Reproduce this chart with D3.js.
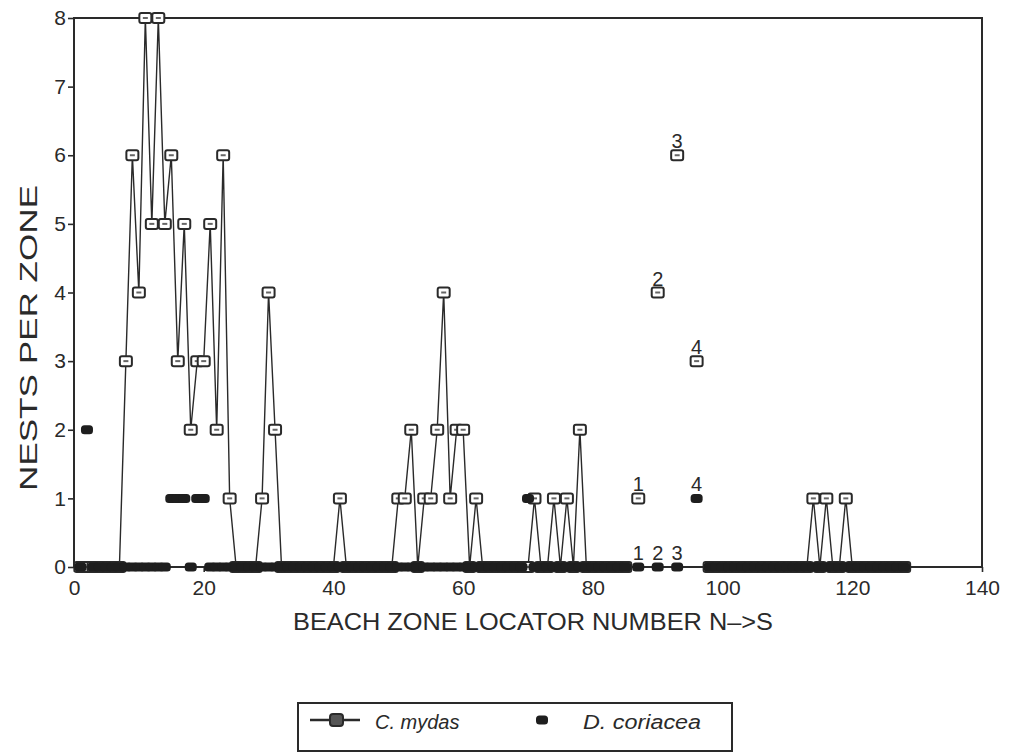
<!DOCTYPE html>
<html>
<head>
<meta charset="utf-8">
<script src="https://cdn.jsdelivr.net/npm/d3@7"></script>
<style>
  body { margin: 0; background: #fff; }
  text { font-family: "Liberation Sans", Arial, Helvetica, sans-serif; fill: #2a2a2a; }
</style>
</head>
<body>
<svg id="chart" width="1011" height="753"></svg>
<script>
// Beach zones surveyed north to south (two contiguous stretches)
const northZones = d3.range(1, 86);   // zones 1..85
const southZones = d3.range(98, 129); // zones 98..128

// C. mydas nests per zone, zones 1..85
const mydasNorth = [
  0, 0, 0, 0, 0, 0, 0, 3, 6, 4,
  8, 5, 8, 5, 6, 3, 5, 2, 3, 3,
  5, 2, 6, 1, 0, 0, 0, 0, 1, 4,
  2, 0, 0, 0, 0, 0, 0, 0, 0, 0,
  1, 0, 0, 0, 0, 0, 0, 0, 0, 1,
  1, 2, 0, 1, 1, 2, 4, 1, 2, 2,
  0, 1, 0, 0, 0, 0, 0, 0, 0, 0,
  1, 0, 0, 1, 0, 1, 0, 2, 0, 0,
  0, 0, 0, 0, 0
];
// D. coriacea nests per zone, zones 1..85
const coriaceaNorth = [
  0, 2, 0, 0, 0, 0, 0, 0, 0, 0,
  0, 0, 0, 0, 1, 1, 1, 0, 1, 1,
  0, 0, 0, 0, 0, 0, 0, 0, 0, 0,
  0, 0, 0, 0, 0, 0, 0, 0, 0, 0,
  0, 0, 0, 0, 0, 0, 0, 0, 0, 0,
  0, 0, 0, 0, 0, 0, 0, 0, 0, 0,
  0, 0, 0, 0, 0, 0, 0, 0, 0, 1,
  0, 0, 0, 0, 0, 0, 0, 0, 0, 0,
  0, 0, 0, 0, 0
];
// zones 98..128
const mydasSouth = [
  0, 0, 0, 0, 0, 0, 0, 0, 0, 0,
  0, 0, 0, 0, 0, 0, 1, 0, 1, 0,
  0, 1, 0, 0, 0, 0, 0, 0, 0, 0,
  0
];
const coriaceaSouth = [
  0, 0, 0, 0, 0, 0, 0, 0, 0, 0,
  0, 0, 0, 0, 0, 0, 0, 0, 0, 0,
  0, 0, 0, 0, 0, 0, 0, 0, 0, 0,
  0
];

// Separately numbered zones 1-4
const extraZones = [87, 90, 93, 96];
const extraLabels = ["1", "2", "3", "4"];
const mydasExtra = [1, 4, 6, 3];
const coriaceaExtra = [0, 0, 0, 1];

const xTicks = [0, 20, 40, 60, 80, 100, 120, 140];
const yTicks = [0, 1, 2, 3, 4, 5, 6, 7, 8];
const seriesNames = ["C. mydas", "D. coriacea"];

const ink = "#2a2a2a";
const svg = d3.select("#chart");
const m = { left: 74, right: 982, top: 18, bottom: 567 };

const x = d3.scaleLinear().domain([0, 140]).range([m.left, m.right]);
const y = d3.scaleLinear().domain([0, 8]).range([m.bottom, m.top]);

// Axes
const yAxis = svg.append("g")
  .attr("transform", `translate(${m.left},0)`)
  .call(d3.axisLeft(y).tickValues(yTicks).tickSize(6).tickPadding(2).tickFormat(d3.format("d")));
const xAxis = svg.append("g")
  .attr("transform", `translate(0,${m.bottom})`)
  .call(d3.axisBottom(x).tickValues(xTicks).tickSize(5).tickPadding(8).tickFormat(d3.format("d")));
[yAxis, xAxis].forEach(g => {
  g.select(".domain").remove();
  g.selectAll(".tick line").attr("stroke", ink).attr("stroke-width", 1.6);
  g.selectAll(".tick text").attr("font-size", 21).attr("fill", ink)
    .style("font-family", '"Liberation Sans", Arial, sans-serif');
});

// Plot frame
svg.append("rect")
  .attr("x", m.left).attr("y", m.top)
  .attr("width", m.right - m.left).attr("height", m.bottom - m.top)
  .attr("fill", "none").attr("stroke", ink).attr("stroke-width", 2);

// Axis titles
svg.append("text")
  .attr("x", 293).attr("y", 630)
  .attr("font-size", 24)
  .attr("textLength", 480).attr("lengthAdjust", "spacingAndGlyphs")
  .text("BEACH ZONE LOCATOR NUMBER N\u2013>S");
svg.append("text")
  .attr("transform", "translate(37,338) rotate(-90)")
  .attr("text-anchor", "middle")
  .attr("font-size", 24)
  .attr("textLength", 306).attr("lengthAdjust", "spacingAndGlyphs")
  .text("NESTS PER ZONE");

const toPts = (zones, vals) => zones.map((z, i) => ({ z, v: vals[i] }));
const mydasSegments = [toPts(northZones, mydasNorth), toPts(southZones, mydasSouth)];
const coriaceaPts = toPts(northZones, coriaceaNorth).concat(toPts(southZones, coriaceaSouth));
const mydasExtraPts = toPts(extraZones, mydasExtra);
const coriaceaExtraPts = toPts(extraZones, coriaceaExtra);

const line = d3.line().x(d => x(d.z)).y(d => y(d.v));

const plot = svg.append("g");

// C. mydas connecting lines
plot.selectAll("path.mydas")
  .data(mydasSegments)
  .join("path")
  .attr("class", "mydas")
  .attr("d", line)
  .attr("fill", "none")
  .attr("stroke", ink)
  .attr("stroke-width", 1.4);

function drawSquare(g, cx, cy) {
  g.append("rect")
    .attr("x", cx - 6).attr("y", cy - 5)
    .attr("width", 12).attr("height", 10).attr("rx", 2)
    .attr("fill", "#fff").attr("stroke", ink).attr("stroke-width", 2);
  g.append("rect")
    .attr("x", cx - 2.5).attr("y", cy - 1)
    .attr("width", 5).attr("height", 2)
    .attr("fill", "#666");
}
function drawDot(g, cx, cy) {
  g.append("rect")
    .attr("x", cx - 6).attr("y", cy - 4.5)
    .attr("width", 12).attr("height", 9).attr("rx", 3.5)
    .attr("fill", "#1e1e1e");
}

const mydasG = plot.append("g");
mydasSegments.flat().concat(mydasExtraPts).forEach(d => drawSquare(mydasG, x(d.z), y(d.v)));

const corG = plot.append("g");
coriaceaPts.concat(coriaceaExtraPts).forEach(d => drawDot(corG, x(d.z), y(d.v)));

// Numbers above the separately numbered zones
plot.append("g").selectAll("text")
  .data(mydasExtraPts.map((d, i) => ({ ...d, label: extraLabels[i] }))
    .concat(coriaceaExtraPts.map((d, i) => ({ ...d, label: extraLabels[i] }))))
  .join("text")
  .attr("x", d => x(d.z))
  .attr("y", d => y(d.v) - 7)
  .attr("text-anchor", "middle")
  .attr("font-size", 20)
  .text(d => d.label);

// Legend
const lg = svg.append("g");
lg.append("rect")
  .attr("x", 298).attr("y", 703).attr("width", 434).attr("height", 48)
  .attr("fill", "#fff").attr("stroke", ink).attr("stroke-width", 2);
lg.append("line")
  .attr("x1", 310).attr("x2", 360).attr("y1", 720).attr("y2", 720)
  .attr("stroke", ink).attr("stroke-width", 2.5);
lg.append("rect")
  .attr("x", 330).attr("y", 714).attr("width", 13).attr("height", 12).attr("rx", 3)
  .attr("fill", "#555").attr("stroke", ink).attr("stroke-width", 2);
lg.append("text")
  .attr("x", 375).attr("y", 729)
  .attr("font-size", 20).attr("font-style", "italic")
  .text(seriesNames[0]);
drawDot(lg, 542, 720);
lg.append("text")
  .attr("x", 583).attr("y", 729)
  .attr("font-size", 20).attr("font-style", "italic")
  .attr("textLength", 118).attr("lengthAdjust", "spacingAndGlyphs")
  .text(seriesNames[1]);
</script>
</body>
</html>
